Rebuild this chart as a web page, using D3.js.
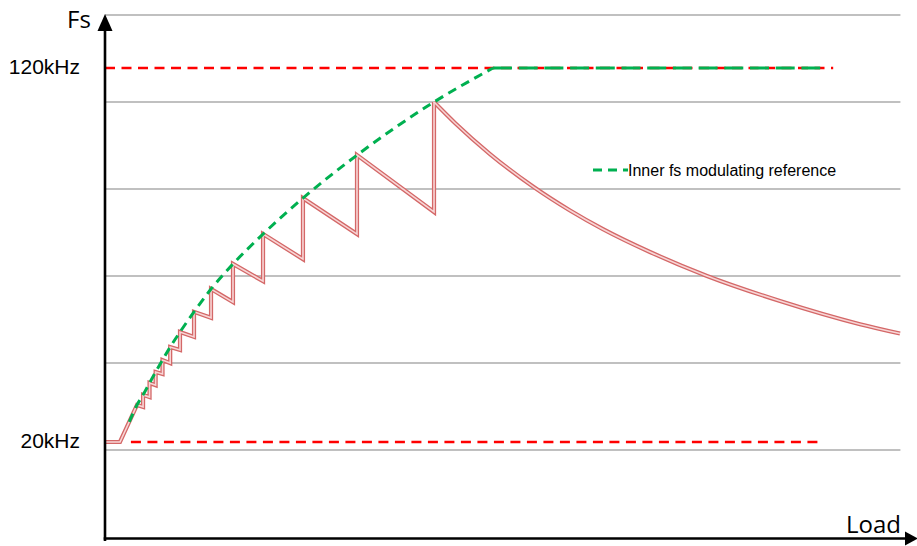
<!DOCTYPE html>
<html>
<head>
<meta charset="utf-8">
<script src="https://cdn.jsdelivr.net/npm/d3@7"></script>
<style>
  html, body { margin: 0; padding: 0; background: #ffffff; }
  svg { display: block; }
</style>
</head>
<body>
<div id="chart"></div>
<script>
// ---------------- DATA ----------------
// Load in % of full range, Fs in kHz
const limitLabels = ["20kHz", "120kHz"];
const limitValues = [20, 120];
const gridValues = [17.86, 41.12, 64.39, 87.65, 110.9, 134.17];

// start of the real switching-frequency trace (flat, then ramp)
const startLoad = [0, 1.85];
const startFs = [20, 20];

// sawtooth: each tooth jumps at toothLoad from toothBottom up to toothTop
const toothLoad   = [3.95, 4.70, 5.50, 6.25, 7.10, 8.05, 9.26, 10.99, 13.09, 15.80, 19.51, 24.44, 31.11, 40.62];
const toothBottom = [29.9, 29.4, 32.0, 35.2, 38.2, 41.1, 44.6, 48.1, 53.2, 57.4, 63.0, 68.9, 75.6, 81.5];
const toothTop    = [29.9, 32.6, 35.8, 38.7, 41.9, 45.4, 49.4, 54.8, 60.9, 67.6, 75.6, 85.2, 96.7, 110.9];

// final decay after the last tooth
const decayLoad = [40.62, 43.21, 47.53, 52.84, 57.41, 61.48, 67.28, 74.32, 83.33, 93.21, 98.15];
const decayFs   = [110.9, 105.3, 97.0, 88.3, 81.9, 76.9, 70.8, 64.4, 57.7, 51.5, 49.0];

// inner fs modulating reference (green)
const refLoad = [3.0, 3.95, 4.70, 5.50, 6.25, 7.10, 8.05, 9.26, 10.99, 13.09, 15.80, 19.51, 24.44, 31.11, 40.62, 47.9];
const refFs   = [25.4, 29.9, 32.6, 35.8, 38.7, 41.9, 45.4, 49.4, 54.8, 60.9, 67.6, 75.6, 85.2, 96.7, 110.9, 120];
const refFlatLoad = [47.9, 88.3];

// limit line extents (load)
const limit120Load = [0, 89.9];
const limit20Load = [3.2, 88.6];
const gridLoad = [0, 98.2];

const legendLabel = "Inner fs modulating reference";
const xTitle = "Load";
const yTitle = "Fs";

// ---------------- CHART ----------------
const W = 917, H = 546;
const svg = d3.select("#chart").append("svg").attr("width", W).attr("height", H);

const x = d3.scaleLinear().domain([0, 100]).range([105, 915]);
const y = d3.scaleLinear().domain([20, 120]).range([442, 68]);

const RED = "#ff0000", GREEN = "#00b050";

// gridlines
svg.append("g").selectAll("line").data(gridValues).join("line")
  .attr("x1", x(gridLoad[0])).attr("x2", x(gridLoad[1]))
  .attr("y1", d => y(d)).attr("y2", d => y(d))
  .attr("stroke", "#ababab").attr("stroke-width", 1.4);

// limit lines
const limits = [
  { v: limitValues[1], ext: limit120Load },
  { v: limitValues[0], ext: limit20Load }
];
svg.append("g").selectAll("line").data(limits).join("line")
  .attr("x1", d => x(d.ext[0])).attr("x2", d => x(d.ext[1]))
  .attr("y1", d => y(d.v)).attr("y2", d => y(d.v))
  .attr("stroke", RED).attr("stroke-width", 2.6).attr("stroke-dasharray", "10,6.5");

// real fs trace points
const saw = [];
startLoad.forEach((l, i) => saw.push([l, startFs[i]]));
toothLoad.forEach((l, i) => {
  saw.push([l, toothBottom[i]]);
  saw.push([l, toothTop[i]]);
});
const decay = decayLoad.map((l, i) => [l, decayFs[i]]);

const lineLin = d3.line().x(d => x(d[0])).y(d => y(d[1]));
const lineMono = d3.line().x(d => x(d[0])).y(d => y(d[1])).curve(d3.curveMonotoneX);

const trace = svg.append("g").attr("fill", "none").attr("stroke-linejoin", "miter").attr("stroke-miterlimit", 3);
[["#d46868", 4.2], ["#f8d6d6", 1.6]].forEach(([c, w]) => {
  trace.append("path").attr("d", lineLin(saw)).attr("stroke", c).attr("stroke-width", w);
  trace.append("path").attr("d", lineMono(decay)).attr("stroke", c).attr("stroke-width", w);
});

// green reference
const ref = refLoad.map((l, i) => [l, refFs[i]]);
svg.append("path").attr("d", lineMono(ref)).attr("fill", "none")
  .attr("stroke", GREEN).attr("stroke-width", 3).attr("stroke-dasharray", "9,6");
svg.append("line")
  .attr("x1", x(refFlatLoad[0])).attr("x2", x(refFlatLoad[1]))
  .attr("y1", y(limitValues[1])).attr("y2", y(limitValues[1]))
  .attr("stroke", GREEN).attr("stroke-width", 2.8).attr("stroke-dasharray", "19,6.7");

// axes
const x0 = x(0), yBase = 538.5;
svg.append("line").attr("x1", x0).attr("x2", x0).attr("y1", 541).attr("y2", 28)
  .attr("stroke", "#000").attr("stroke-width", 2.6);
svg.append("path").attr("d", `M${x0},14 L${x0 - 7.5},31 L${x0 + 7.5},31 Z`).attr("fill", "#000");
svg.append("line").attr("x1", x0 - 1.3).attr("x2", 906).attr("y1", yBase).attr("y2", yBase)
  .attr("stroke", "#000").attr("stroke-width", 2.6);
svg.append("path").attr("d", `M918,${yBase} L905,${yBase - 7} L905,${yBase + 7} Z`).attr("fill", "#000");

// axis titles
svg.append("text").attr("x", 67).attr("y", 28).text(yTitle)
  .attr("font-family", "Open Sans").attr("font-size", 24).attr("fill", "#000");
svg.append("text").attr("x", 846).attr("y", 533).text(xTitle)
  .attr("font-family", "Open Sans").attr("font-size", 24).attr("fill", "#000");

// limit labels
svg.append("g").selectAll("text").data(limitValues).join("text")
  .attr("x", 80).attr("y", d => y(d) + 5.5)
  .attr("text-anchor", "end")
  .attr("font-family", "Liberation Sans, Arial").attr("font-size", 21).attr("fill", "#000")
  .text((d, i) => limitLabels[i]);

// legend
svg.append("line").attr("x1", 593).attr("x2", 628).attr("y1", 170).attr("y2", 170)
  .attr("stroke", GREEN).attr("stroke-width", 3).attr("stroke-dasharray", "9,6");
svg.append("text").attr("x", 628).attr("y", 175.5).text(legendLabel)
  .attr("font-family", "Liberation Sans, Arial").attr("font-size", 16).attr("fill", "#000");
</script>
</body>
</html>
